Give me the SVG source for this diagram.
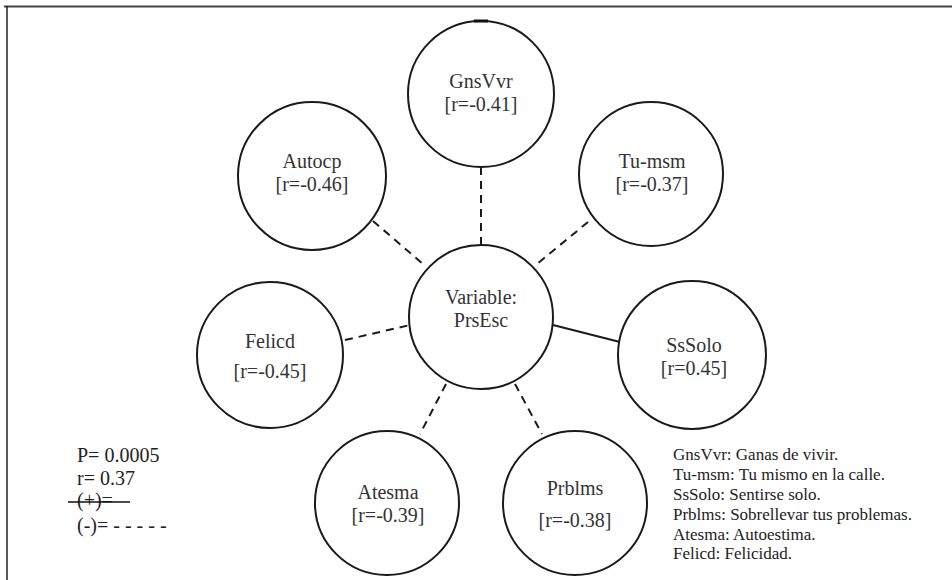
<svg xmlns="http://www.w3.org/2000/svg" width="952" height="580" viewBox="0 0 952 580">
<style>
.node circle{fill:#fff;stroke:#1a1a1a;stroke-width:2}
.lbl{font-family:'Liberation Serif','DejaVu Serif','Times New Roman',serif;font-size:20px;fill:#333;text-anchor:middle}
.leg{font-family:'Liberation Serif','DejaVu Serif','Times New Roman',serif;font-size:20px;fill:#222}
.leg2{font-family:'Liberation Serif','DejaVu Serif','Times New Roman',serif;font-size:17px;fill:#222}
.dash{stroke:#1a1a1a;stroke-width:2;stroke-dasharray:8 6;fill:none}
.solid{stroke:#1a1a1a;stroke-width:2;fill:none}
</style>
<rect width="952" height="580" fill="#fff"/>
<g id="frame">
<line x1="4" y1="6.5" x2="952" y2="6.5" stroke="#444" stroke-width="2"/>
<line x1="7" y1="6" x2="7" y2="580" stroke="#222" stroke-width="1.5"/>
</g>
<g id="connectors">
<line class="dash" x1="481" y1="167" x2="481" y2="245"/>
<line class="dash" x1="373" y1="221" x2="423" y2="264"/>
<line class="dash" x1="588" y1="222" x2="537" y2="264"/>
<line class="dash" x1="345" y1="340" x2="410" y2="325"/>
<line class="solid" x1="553" y1="325" x2="620" y2="342"/>
<line class="dash" x1="446" y1="384" x2="420" y2="434"/>
<line class="dash" x1="515" y1="384" x2="542" y2="434"/>
</g>
<g id="center" class="node">
<circle cx="481" cy="317" r="72"/>
<text class="lbl" x="481" y="304" font-family="Liberation Serif, serif">Variable:</text>
<text class="lbl" x="481" y="327" font-family="Liberation Serif, serif">PrsEsc</text>
</g>
<g id="GnsVvr" class="node">
<circle cx="481" cy="94" r="73"/>
<line x1="474" y1="21" x2="488" y2="21" stroke="#111" stroke-width="3"/>
<text class="lbl" x="481" y="88">GnsVvr</text>
<text class="lbl" x="481" y="111">[r=-0.41]</text>
</g>
<g id="Autocp" class="node">
<circle cx="312" cy="176" r="74"/>
<text class="lbl" x="312" y="168">Autocp</text>
<text class="lbl" x="312" y="191">[r=-0.46]</text>
</g>
<g id="Tu-msm" class="node">
<circle cx="651" cy="174" r="72"/>
<text class="lbl" x="652" y="168">Tu-msm</text>
<text class="lbl" x="652" y="191">[r=-0.37]</text>
</g>
<g id="Felicd" class="node">
<circle cx="270" cy="355" r="73"/>
<text class="lbl" x="270" y="348">Felicd</text>
<text class="lbl" x="270" y="378">[r=-0.45]</text>
</g>
<g id="SsSolo" class="node">
<circle cx="692" cy="355" r="74"/>
<text class="lbl" x="694" y="352">SsSolo</text>
<text class="lbl" x="694" y="375">[r=0.45]</text>
</g>
<g id="Atesma" class="node">
<circle cx="387" cy="503" r="72"/>
<text class="lbl" x="388" y="499">Atesma</text>
<text class="lbl" x="388" y="522">[r=-0.39]</text>
</g>
<g id="Prblms" class="node">
<circle cx="575" cy="503" r="72"/>
<text class="lbl" x="575" y="495">Prblms</text>
<text class="lbl" x="575" y="527">[r=-0.38]</text>
</g>
<g id="legend-left">
<text class="leg" x="77" y="462">P= 0.0005</text>
<text class="leg" x="77" y="485">r= 0.37</text>
<text class="leg" x="77" y="507">(+)=</text>
<line x1="68" y1="502" x2="130" y2="502" stroke="#111" stroke-width="1.5"/>
<text class="leg" x="77" y="532">(-)= - - - - -</text>
</g>
<g id="legend-right">
<text class="leg2" x="673" y="460">GnsVvr: Ganas de vivir.</text>
<text class="leg2" x="673" y="480">Tu-msm: Tu mismo en la calle.</text>
<text class="leg2" x="673" y="500">SsSolo: Sentirse solo.</text>
<text class="leg2" x="673" y="520">Prblms: Sobrellevar tus problemas.</text>
<text class="leg2" x="673" y="540">Atesma: Autoestima.</text>
<text class="leg2" x="673" y="559">Felicd: Felicidad.</text>
</g>
</svg>
